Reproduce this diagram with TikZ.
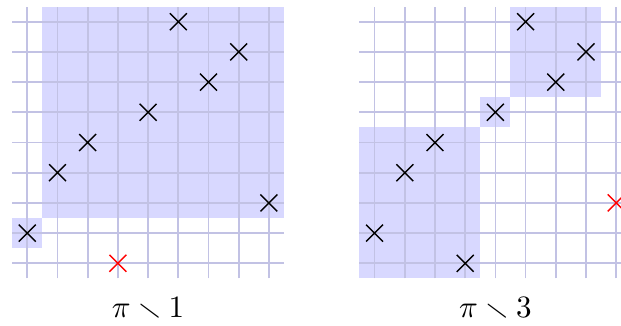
\documentclass[tikz,border=0pt]{standalone}
\usepackage{amssymb}
\usetikzlibrary{shapes.misc}
\definecolor{gridc}{RGB}{194,194,228}
\definecolor{shadec}{RGB}{216,216,255}
\tikzset{
  crossmark/.style={cross out, draw=black, line width=0.45pt, minimum size=5pt, inner sep=0pt},
  crossred/.style={crossmark, draw=red},
  shadebox/.style={fill=shadec, draw=none},
  gridline/.style={draw=gridc, line width=0.55pt},
  lbl/.style={anchor=base, inner sep=0pt}
}
\begin{document}
\begin{tikzpicture}[x=9.72pt,y=9.72pt]
\useasboundingbox (0.096,-1.043) rectangle (20.659,9.719);
\clip (0.096,-1.043) rectangle (20.659,9.719);
% left panel
\fill[shadebox] (0.5,1.5) rectangle (1.5,2.5);
\fill[shadebox] (1.5,2.5) rectangle (9.5,9.5);
\foreach \i in {1,...,9} {
  \draw[gridline] (\i,0.5) -- (\i,9.5);
  \draw[gridline] (0.5,\i) -- (9.5,\i);
}
\foreach \c/\r in {1/2,2/4,3/5,5/6,6/9,7/7,8/8,9/3}
  \node[crossmark] (a\c) at (\c,\r) {};
\node[crossred] (a4) at (4,1) {};
\node[lbl] (l1) at (5,-0.8) {$\pi \smallsetminus 1$};
% right panel
\fill[shadebox] (12,0.5) rectangle (16,5.5);
\fill[shadebox] (16,5.5) rectangle (17,6.5);
\fill[shadebox] (17,6.5) rectangle (20,9.5);
\foreach \i in {1,...,9} {
  \draw[gridline] (11.5+\i,0.5) -- (11.5+\i,9.5);
  \draw[gridline] (12,\i) -- (21,\i);
}
\foreach \c/\r in {1/2,2/4,3/5,4/1,5/6,6/9,7/7,8/8}
  \node[crossmark] (b\c) at (11.5+\c,\r) {};
\node[crossred] (b9) at (20.5,3) {};
\node[lbl] (l2) at (16.5,-0.8) {$\pi \smallsetminus 3$};
\end{tikzpicture}
\end{document}
